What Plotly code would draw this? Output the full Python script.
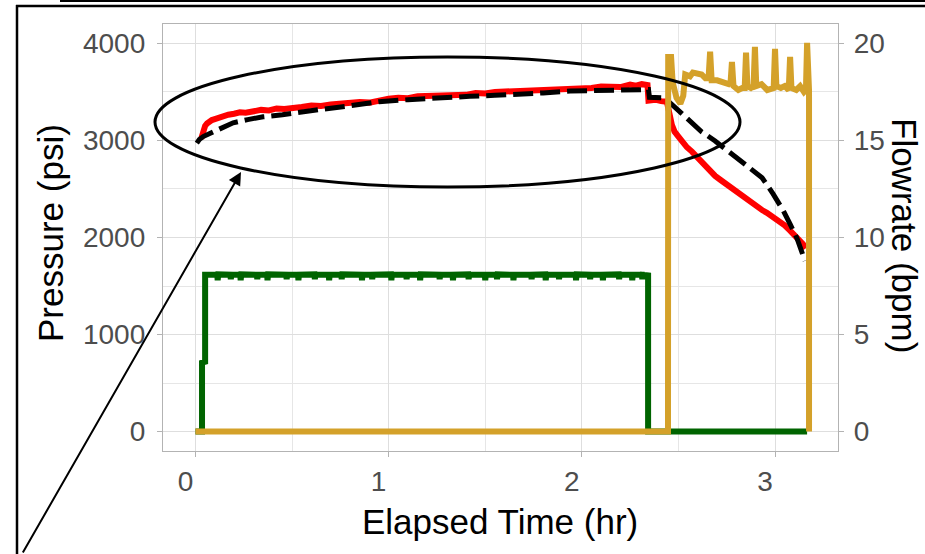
import plotly.graph_objects as go

# ---------------- data ----------------
red_time = [0.030, 0.035, 0.042, 0.050, 0.060, 0.072, 0.085, 0.10, 0.12, 0.14, 0.17, 0.20, 0.23, 0.26,
            0.30, 0.34, 0.38, 0.42, 0.46, 0.50, 0.55, 0.60, 0.65, 0.70, 0.75, 0.80, 0.85, 0.90, 0.95,
            1.00, 1.05, 1.10, 1.15, 1.20, 1.25, 1.30, 1.35, 1.40, 1.45, 1.50, 1.55, 1.60, 1.65, 1.70,
            1.75, 1.80, 1.85, 1.90, 1.95, 2.00, 2.05, 2.10, 2.15, 2.20, 2.25, 2.28, 2.31, 2.34, 2.345,
            2.38, 2.41, 2.44, 2.466, 2.48, 2.50, 2.52, 2.544, 2.57, 2.59, 2.612, 2.63, 2.65, 2.664,
            2.69, 2.72, 2.75, 2.783, 2.81, 2.84, 2.855, 2.88, 2.907, 2.935, 2.958, 2.99, 3.01, 3.026,
            3.05, 3.078, 3.104, 3.129, 3.145, 3.16]
red_psi = [3020, 3060, 3110, 3150, 3175, 3195, 3210, 3220, 3235, 3250, 3265, 3275, 3290, 3285,
           3305, 3315, 3310, 3330, 3325, 3340, 3345, 3360, 3355, 3370, 3380, 3375, 3395, 3390, 3415,
           3430, 3440, 3435, 3455, 3460, 3450, 3470, 3475, 3470, 3490, 3485, 3500, 3505, 3495, 3515,
           3520, 3510, 3530, 3535, 3525, 3545, 3540, 3555, 3560, 3550, 3575, 3565, 3580, 3570, 3410,
           3420, 3405, 3400, 3160, 3090, 3040, 2985, 2930, 2885, 2845, 2800, 2760, 2715, 2680,
           2635, 2590, 2545, 2495, 2455, 2410, 2390, 2350, 2320, 2280, 2255, 2210, 2195, 2160,
           2125, 2070, 2020, 1965, 1930, 1890]

model_time = [0.007, 0.02, 0.04, 0.076, 0.12, 0.195, 0.27, 0.35, 0.45, 0.541, 0.65, 0.80, 0.95,
              1.10, 1.25, 1.42, 1.55, 1.68, 1.80, 1.94, 2.10, 2.30, 2.345, 2.35, 2.42, 2.45, 2.48,
              2.54, 2.596, 2.62, 2.69, 2.715, 2.78, 2.834, 2.88, 2.933, 2.99, 3.042, 3.08, 3.114, 3.155]
model_psi = [2973, 3010, 3040, 3070, 3120, 3182, 3215, 3244, 3265, 3285, 3320, 3357, 3400,
             3420, 3440, 3455, 3465, 3475, 3490, 3510, 3520, 3525, 3525, 3445, 3440, 3400, 3347,
             3240, 3141, 3090, 2995, 2956, 2850, 2760, 2690, 2616, 2450, 2280, 2130, 1990, 1760]

green_time = [0.0, 0.034, 0.034, 0.05, 0.05, 0.113, 0.115, 0.118, 0.181, 0.183, 0.186, 0.232, 0.234,
              0.237, 0.318, 0.320, 0.323, 0.371, 0.373, 0.376, 0.470, 0.472, 0.475, 0.531, 0.533, 0.536,
              0.616, 0.618, 0.621, 0.690, 0.692, 0.695, 0.755, 0.757, 0.760, 0.860, 0.862, 0.865,
              0.913, 0.915, 0.918, 1.012, 1.014, 1.017, 1.091, 1.093, 1.096, 1.161, 1.163, 1.166,
              1.262, 1.264, 1.267, 1.331, 1.333, 1.336, 1.412, 1.414, 1.417, 1.498, 1.500, 1.503,
              1.559, 1.561, 1.564, 1.644, 1.646, 1.649, 1.738, 1.740, 1.743, 1.811, 1.813, 1.816,
              1.880, 1.882, 1.885, 1.968, 1.970, 1.973, 2.041, 2.043, 2.046, 2.107, 2.109, 2.112,
              2.191, 2.193, 2.196, 2.259, 2.261, 2.264, 2.311, 2.313, 2.316, 2.343, 2.343, 3.166]
green_bpm = [0, 0, 3.55, 3.6, 8.08, 8.08, 7.8, 8.1, 8.08, 7.85, 8.08, 8.08, 7.8,
             8.1, 8.08, 7.85, 8.08, 8.08, 7.8, 8.1, 8.08, 7.85, 8.08, 8.08, 7.8, 8.08,
             8.1, 7.85, 8.08, 8.08, 7.8, 8.08, 8.08, 7.85, 8.1, 8.08, 7.8, 8.08,
             8.08, 7.85, 8.08, 8.1, 7.8, 8.08, 8.08, 7.85, 8.08, 8.08, 7.8, 8.1,
             8.08, 7.85, 8.08, 8.08, 7.8, 8.08, 8.1, 7.85, 8.08, 8.08, 7.8, 8.08,
             8.08, 7.85, 8.1, 8.08, 7.8, 8.08, 8.08, 7.85, 8.08, 8.1, 7.8, 8.08,
             8.08, 7.85, 8.08, 8.08, 7.8, 8.1, 8.08, 7.85, 8.08, 8.08, 7.8, 8.08,
             8.1, 7.85, 8.08, 8.08, 7.8, 8.08, 8.08, 7.85, 8.08, 8.05, 0, 0]

gold_time = [0.0, 2.446, 2.447, 2.462, 2.47, 2.49, 2.51, 2.525, 2.535, 2.56, 2.575, 2.60, 2.62,
             2.64, 2.656, 2.664, 2.672, 2.70, 2.73, 2.76, 2.770, 2.777, 2.785, 2.81, 2.83, 2.843,
             2.850, 2.857, 2.875, 2.889, 2.896, 2.903, 2.93, 2.96, 2.993, 3.000, 3.007, 3.03,
             3.05, 3.071, 3.078, 3.085, 3.11, 3.13, 3.15, 3.160, 3.166, 3.172, 3.176, 3.176]
gold_bpm = [0, 0, 19.3, 19.3, 18.0, 17.2, 16.9, 17.3, 18.4, 18.3, 18.5, 18.4, 18.4,
            18.2, 18.2, 19.57, 18.1, 18.1, 18.0, 17.9, 18.0, 19.05, 17.8, 17.6, 17.7, 17.7,
            19.52, 17.8, 17.7, 17.8, 19.82, 17.8, 17.9, 17.6, 17.7, 19.72, 17.8, 17.7,
            17.8, 17.6, 19.31, 17.7, 17.6, 17.8, 17.5, 17.6, 20.03, 17.6, 17.6, 0]

x_ticks = [0, 1, 2, 3]
p_ticks = [0, 1000, 2000, 3000, 4000]
q_ticks = [0, 5, 10, 15, 20]

# ---------------- figure ----------------
FONT = "Liberation Sans, Arial, sans-serif"
fig = go.Figure()
fig.add_trace(go.Scatter(x=red_time, y=red_psi, mode="lines",
                         line=dict(color="#FF0000", width=6), showlegend=False))
fig.add_trace(go.Scatter(x=model_time, y=model_psi, mode="lines",
                         line=dict(color="#000000", width=5, dash="20px,7px"), showlegend=False))
fig.add_trace(go.Scatter(x=green_time, y=green_bpm, mode="lines", yaxis="y2",
                         line=dict(color="#006400", width=6), showlegend=False))
fig.add_trace(go.Scatter(x=gold_time, y=gold_bpm, mode="lines", yaxis="y2",
                         line=dict(color="#D4A12A", width=6), showlegend=False))

L, R, T, B = 163, 87, 24, 103
W, H = 925, 554
pw, ph = W - L - R, H - T - B


def px(x):
    return (x - L) / pw


def py(y):
    return (H - B - y) / ph


axis_common = dict(showline=True, linecolor="#B3B3B3", linewidth=1.3, ticks="outside",
                   ticklen=5, tickwidth=1.3, tickcolor="#B3B3B3", zeroline=False,
                   tickfont=dict(family=FONT, size=28, color="#4D4D4D"))

fig.update_layout(
    width=W, height=H, margin=dict(l=L, r=R, t=T, b=B),
    paper_bgcolor="white", plot_bgcolor="white",
    xaxis=dict(range=[-0.168, 3.326], tickvals=x_ticks, mirror=True,
               showgrid=True, gridcolor="#DEDEDE", gridwidth=1.4,
               minor=dict(dtick=0.5, showgrid=True, gridcolor="#E6E6E6", gridwidth=1),
               ticklabelshift=-10, **axis_common),
    yaxis=dict(range=[-200, 4200], tickvals=p_ticks, mirror=True,
               showgrid=True, gridcolor="#DEDEDE", gridwidth=1.4,
               minor=dict(dtick=500, showgrid=True, gridcolor="#E6E6E6", gridwidth=1),
               ticklabelstandoff=6, **axis_common),
    yaxis2=dict(range=[-1, 21], tickvals=q_ticks, overlaying="y", side="right",
                showgrid=False, ticklabelstandoff=4, **axis_common),
    shapes=[
        dict(type="circle", xref="paper", yref="paper", x0=px(155), x1=px(740),
             y0=py(187), y1=py(57), line=dict(color="black", width=3)),
        dict(type="line", xref="paper", yref="paper", x0=px(17), x1=px(17),
             y0=py(5), y1=py(560), line=dict(color="black", width=2.5)),
        dict(type="line", xref="paper", yref="paper", x0=px(16), x1=px(930),
             y0=py(6), y1=py(6), line=dict(color="black", width=2.5)),
        dict(type="line", xref="paper", yref="paper", x0=px(60), x1=px(930),
             y0=py(1), y1=py(1), line=dict(color="black", width=2)),
    ],
    annotations=[
        dict(x=px(241), y=py(172), xref="paper", yref="paper", text="", showarrow=True,
             ax=22 - 241, ay=562 - 172, arrowhead=2, arrowsize=1.3, arrowwidth=2,
             arrowcolor="black"),
        dict(x=px(500), y=py(521), xref="paper", yref="paper", text="Elapsed Time (hr)",
             showarrow=False, font=dict(family=FONT, size=35, color="black"),
             xanchor="center", yanchor="middle"),
        dict(x=px(50), y=py(233), xref="paper", yref="paper", text="Pressure (psi)",
             showarrow=False, textangle=-90, font=dict(family=FONT, size=35, color="black"),
             xanchor="center", yanchor="middle"),
        dict(x=px(905), y=py(236), xref="paper", yref="paper", text="Flowrate (bpm)",
             showarrow=False, textangle=90, font=dict(family=FONT, size=35, color="black"),
             xanchor="center", yanchor="middle"),
    ],
)

fig.write_html("out.html", config={"displayModeBar": False},
               post_script="document.body.style.margin='0px';")
